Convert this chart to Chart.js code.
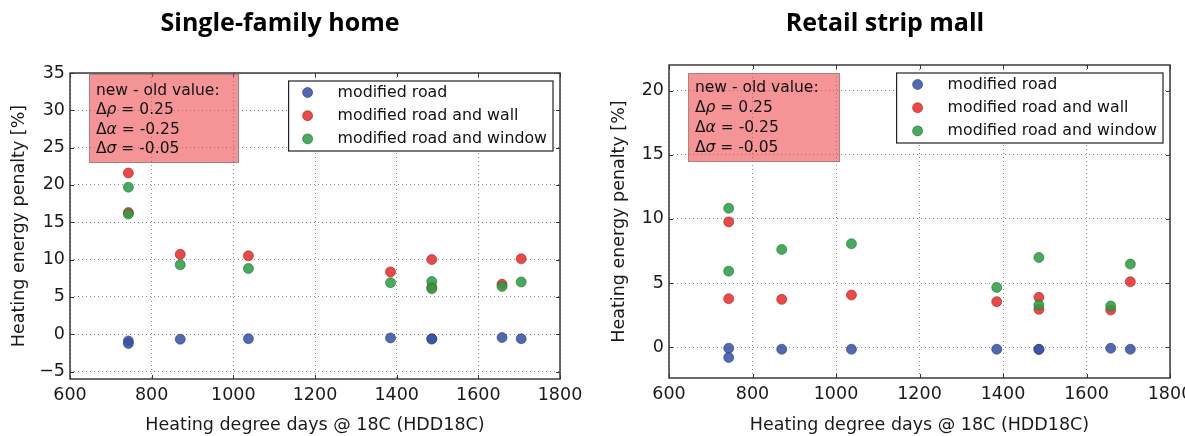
<!DOCTYPE html>
<html lang="en">
<head>
<meta charset="UTF-8">
<title>Heating energy penalty</title>
<script src="https://cdn.jsdelivr.net/npm/chart.js"></script>
<style>
  html, body { margin: 0; padding: 0; background: #fff; }
  body { width: 1185px; height: 436px; position: relative; overflow: hidden; }
  .panel { position: absolute; top: 0; }
</style>
</head>
<body>

<div class="panel" style="left:0"><canvas id="homeChart" width="585" height="436"></canvas></div>
<div class="panel" style="left:600px"><canvas id="mallChart" width="595" height="436"></canvas></div>

<script>
// HDD of each simulated site (two sites share ~743 and ~1486)
const hddSites = [743, 743, 870, 1037, 1385, 1486, 1486, 1658, 1705];

const seriesLabels = ['modified road', 'modified road and wall', 'modified road and window'];
const seriesColors = ['#3a53a4', '#e8302f', '#2e9e45'];
const seriesEdges  = ['#2a3d7a', '#a82222', '#1f6e30'];

// single-family home, heating energy penalty [%]
const homeRoad   = [-0.9, -1.25, -0.67, -0.6, -0.5, -0.6, -0.65, -0.45, -0.6];
const homeWall   = [21.6, 16.3, 10.7, 10.5, 8.35, 10.0, 6.3, 6.7, 10.1];
const homeWindow = [19.7, 16.1, 9.3, 8.8, 6.9, 7.05, 6.1, 6.4, 7.0];

// retail strip mall, heating energy penalty [%]
const mallRoad   = [-0.08, -0.8, -0.16, -0.16, -0.16, -0.16, -0.18, -0.08, -0.16];
const mallWall   = [9.77, 3.78, 3.73, 4.07, 3.55, 3.89, 2.95, 2.9, 5.1];
const mallWindow = [10.83, 5.93, 7.62, 8.06, 4.66, 7.0, 3.29, 3.21, 6.48];

const annotLines = [
  [['new - old value:', 'n']],
  [['\u0394', 'n'], ['\u03c1', 'i'], [' = 0.25', 'n']],
  [['\u0394', 'n'], ['\u03b1', 'i'], [' = -0.25', 'n']],
  [['\u0394', 'n'], ['\u03c3', 'i'], [' = -0.05', 'n']]
];

Chart.defaults.font.family = "'DejaVu Sans', sans-serif";
Chart.defaults.color = '#1a1a1a';

function toPoints(vals) {
  return hddSites.map((x, i) => ({ x: x, y: vals[i] }));
}

function makeDatasets(road, wall, win) {
  return [road, wall, win].map((vals, i) => ({
    label: seriesLabels[i],
    data: toPoints(vals),
    backgroundColor: seriesColors[i] + 'e0',
    borderColor: seriesEdges[i],
    borderWidth: 0.6,
    pointRadius: 5,
    order: 3 - i
  }));
}

// ticks on every multiple of step inside the axis range
function stepTicks(s, step) {
  const out = [];
  for (let v = Math.ceil(s.min / step) * step; v <= s.max + 1e-9; v += step) out.push({ value: v });
  s.ticks = out;
}

// frame, inward ticks, annotation box and in-plot legend
const decorPlugin = {
  id: 'decor',
  afterDraw(chart, args, o) {
    const ctx = chart.ctx, a = chart.chartArea;
    const sx = chart.scales.x, sy = chart.scales.y;
    ctx.save();
    ctx.strokeStyle = '#333';
    ctx.lineWidth = 1;
    ctx.beginPath();
    sx.ticks.forEach(t => {
      const px = Math.round(sx.getPixelForValue(t.value)) + 0.5;
      ctx.moveTo(px, a.bottom); ctx.lineTo(px, a.bottom - 4);
      ctx.moveTo(px, a.top); ctx.lineTo(px, a.top + 4);
    });
    sy.ticks.forEach(t => {
      const py = Math.round(sy.getPixelForValue(t.value)) + 0.5;
      ctx.moveTo(a.left, py); ctx.lineTo(a.left + 4, py);
      ctx.moveTo(a.right, py); ctx.lineTo(a.right - 4, py);
    });
    ctx.stroke();
    ctx.lineWidth = 1.5;
    ctx.strokeStyle = '#3a3a3a';
    ctx.strokeRect(a.left, a.top, a.right - a.left, a.bottom - a.top);

    // annotation
    const bx = a.left + o.annot.dx, by = a.top + o.annot.dy;
    ctx.fillStyle = 'rgba(235,60,65,0.55)';
    ctx.fillRect(bx, by, o.annot.w, o.annot.h);
    ctx.strokeStyle = 'rgba(140,110,110,0.6)';
    ctx.lineWidth = 1;
    ctx.strokeRect(bx + 0.5, by + 0.5, o.annot.w - 1, o.annot.h - 1);
    ctx.fillStyle = '#111';
    ctx.textBaseline = 'middle';
    ctx.textAlign = 'left';
    annotLines.forEach((parts, li) => {
      let x = bx + 7;
      const y = by + o.annot.lineTop + li * o.annot.lineStep;
      parts.forEach(([txt, st]) => {
        ctx.font = (st === 'i' ? 'oblique ' : '') + "15.5px 'DejaVu Sans'";
        ctx.fillText(txt, x, y);
        x += ctx.measureText(txt).width;
      });
    });

    // legend
    ctx.font = "15.8px 'DejaVu Sans'";
    const ds = chart.data.datasets;
    const tw = Math.max(...ds.map(d => ctx.measureText(d.label).width));
    const lw = o.legend.textX + tw + 6, lh = 70;
    const lx = a.right - o.legend.dx - lw, ly = a.top + o.legend.dy;
    ctx.fillStyle = '#fff';
    ctx.fillRect(lx, ly, lw, lh);
    ctx.strokeStyle = '#222';
    ctx.lineWidth = 1.2;
    ctx.strokeRect(lx, ly, lw, lh);
    ds.forEach((d, i) => {
      const cy = ly + 11.5 + i * 23.2;
      ctx.beginPath();
      ctx.arc(lx + o.legend.markX, cy, 5, 0, Math.PI * 2);
      ctx.fillStyle = d.backgroundColor;
      ctx.fill();
      ctx.lineWidth = 0.6;
      ctx.strokeStyle = d.borderColor;
      ctx.stroke();
      ctx.fillStyle = '#111';
      ctx.fillText(d.label, lx + o.legend.textX, cy);
    });
    ctx.restore();
  }
};

function makeChart(id, cfg) {
  const tickFont = { size: 17.5 };
  return new Chart(document.getElementById(id), {
    type: 'scatter',
    data: { datasets: makeDatasets(cfg.road, cfg.wall, cfg.win) },
    plugins: [decorPlugin],
    options: {
      responsive: false,
      animation: false,
      events: [],
      layout: { padding: { left: 0, right: 25, top: 0, bottom: 0 } },
      plugins: {
        legend: { display: false },
        tooltip: { enabled: false },
        title: {
          display: true,
          text: cfg.title,
          color: '#000',
          font: { family: "'Open Sans', sans-serif", size: 25, weight: 'bold', lineHeight: 1.2 },
          padding: { top: 9, bottom: cfg.top - 39 }
        },
        decor: cfg.decor
      },
      scales: {
        x: {
          type: 'linear',
          min: 600, max: 1800,
          ticks: { font: tickFont, padding: 6, maxRotation: 0, color: '#1a1a1a',
                   callback: v => String(v) },
          afterBuildTicks: s => stepTicks(s, 200),
          grid: { color: 'rgba(0,0,0,0.45)', lineWidth: 1, drawTicks: false },
          border: { display: false, dash: [1, 3] },
          title: {
            display: true,
            text: 'Heating degree days @ 18C (HDD18C)',
            font: { size: 17.5, lineHeight: 1.2 },
            padding: { top: 0, bottom: 0 },
            color: '#1a1a1a'
          },
          afterFit: s => { s.height = 436 - cfg.bottom; s.paddingLeft = 0; s.paddingRight = 0; }
        },
        y: {
          type: 'linear',
          min: cfg.ymin, max: cfg.ymax,
          ticks: { font: tickFont, padding: 5, color: '#1a1a1a',
                   callback: v => (v < 0 ? '\u2212' + Math.abs(v) : String(v)) },
          afterBuildTicks: s => stepTicks(s, 5),
          grid: { color: 'rgba(0,0,0,0.45)', lineWidth: 1, drawTicks: false },
          border: { display: false, dash: [1, 3] },
          title: {
            display: true,
            text: 'Heating energy penalty [%]',
            font: { size: 17.5, lineHeight: 1.2 },
            padding: { top: 8.5, bottom: 0 },
            color: '#1a1a1a'
          },
          afterFit: s => { s.width = cfg.yWidth; s.paddingTop = 0; s.paddingBottom = 0; }
        }
      }
    }
  });
}

makeChart('homeChart', {
  title: 'Single-family home',
  road: homeRoad, wall: homeWall, win: homeWindow,
  ymin: -6, ymax: 35,
  top: 73, bottom: 379, yWidth: 70,
  decor: {
    annot: { dx: 19, dy: 1, w: 150, h: 89, lineTop: 17, lineStep: 19.4 },
    legend: { dx: 7, dy: 8, markX: 19, textX: 49 }
  }
});

makeChart('mallChart', {
  title: 'Retail strip mall',
  road: mallRoad, wall: mallWall, win: mallWindow,
  ymin: -2.4, ymax: 22,
  top: 65, bottom: 378, yWidth: 69,
  decor: {
    annot: { dx: 19, dy: 8, w: 152, h: 89, lineTop: 14.5, lineStep: 20 },
    legend: { dx: 7, dy: 8, markX: 21, textX: 51 }
  }
});
</script>

</body>
</html>
